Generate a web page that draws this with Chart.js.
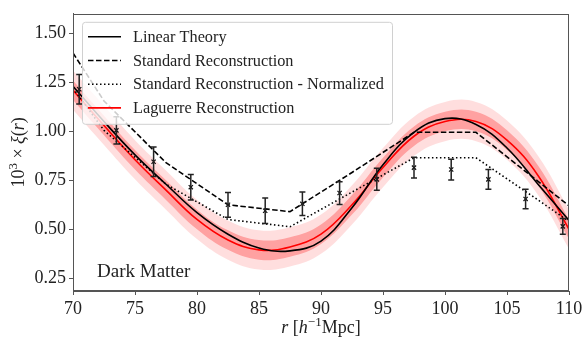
<!DOCTYPE html>
<html>
<head>
<meta charset="utf-8">
<script src="https://cdn.jsdelivr.net/npm/chart.js@4.4.1/dist/chart.umd.min.js"></script>
<style>
  html, body { margin: 0; padding: 0; background: #fff; }
  #wrap { width: 587px; height: 339px; }
</style>
</head>
<body>
<div id="wrap"><canvas id="xiChart" width="587" height="339"></canvas></div>
<script>
const rGrid = [70, 72.5, 75, 77.5, 80, 82.5, 85, 87.5, 90, 92.5, 95, 97.5, 100, 102.5, 105, 107.5, 110];
const linearTheory = [1.23, 1.05, 0.88, 0.73, 0.585, 0.475, 0.405, 0.39, 0.44, 0.61, 0.83, 0.995, 1.065, 1.035, 0.915, 0.73, 0.545];
const laguerre = [1.21, 1.03, 0.855, 0.70, 0.55, 0.445, 0.395, 0.41, 0.475, 0.625, 0.815, 0.975, 1.05, 1.05, 0.955, 0.775, 0.50];
const lag1Up = [1.26, 1.08, 0.905, 0.75, 0.60, 0.495, 0.445, 0.46, 0.525, 0.675, 0.865, 1.025, 1.10, 1.10, 1.005, 0.825, 0.55];
const lag1Low = [1.16, 0.98, 0.805, 0.65, 0.50, 0.395, 0.345, 0.36, 0.425, 0.575, 0.765, 0.925, 1.00, 1.00, 0.905, 0.725, 0.45];
const lag2Up = [1.31, 1.13, 0.955, 0.80, 0.65, 0.545, 0.495, 0.51, 0.575, 0.725, 0.915, 1.075, 1.15, 1.15, 1.055, 0.875, 0.60];
const lag2Low = [1.11, 0.93, 0.755, 0.60, 0.45, 0.345, 0.295, 0.31, 0.375, 0.525, 0.715, 0.875, 0.95, 0.95, 0.855, 0.675, 0.40];

// standard reconstruction, piecewise linear
const rStd = [70, 72.5, 77.5, 82.5, 87.5, 92.5, 97.5, 102.5, 107.5, 110];
const stdRecon = [1.40, 1.155, 0.84, 0.625, 0.59, 0.79, 0.995, 0.995, 0.745, 0.62];
const stdNorm = [1.22, 1.005, 0.73, 0.55, 0.513, 0.69, 0.865, 0.865, 0.65, 0.54];

// measured points with error bars
const measR = [70.5, 73.5, 76.5, 79.5, 82.5, 85.5, 88.5, 91.5, 94.5, 97.5, 100.5, 103.5, 106.5, 109.5];
const measXi = [1.215, 1.005, 0.845, 0.715, 0.625, 0.595, 0.63, 0.685, 0.755, 0.815, 0.805, 0.755, 0.655, 0.515];
const measErr = [0.075, 0.07, 0.075, 0.065, 0.063, 0.065, 0.06, 0.058, 0.056, 0.053, 0.053, 0.05, 0.05, 0.04];

const xTicks = [70, 75, 80, 85, 90, 95, 100, 105, 110];
const yTicks = [0.25, 0.50, 0.75, 1.00, 1.25, 1.50];

const serif = "'Liberation Serif', 'Times New Roman', serif";

function pts(xs, ys) {
  return xs.map((x, i) => ({ x: x, y: ys[i] }));
}

const legendItems = [
  { label: 'Linear Theory', color: '#000', dash: [] },
  { label: 'Standard Reconstruction', color: '#000', dash: [5.5, 2.5] },
  { label: 'Standard Reconstruction - Normalized', color: '#000', dash: [1.5, 2.5] },
  { label: 'Laguerre Reconstruction', color: '#ff0000', dash: [] }
];

const errorBars = {
  id: 'errorBars',
  afterDatasetsDraw(chart) {
    const ctx = chart.ctx;
    const xs = chart.scales.x;
    const ys = chart.scales.y;
    ctx.save();
    ctx.strokeStyle = '#222';
    ctx.lineWidth = 1.5;
    for (let i = 0; i < measR.length; i++) {
      const px = xs.getPixelForValue(measR[i]);
      const top = ys.getPixelForValue(measXi[i] + measErr[i]);
      const bot = ys.getPixelForValue(measXi[i] - measErr[i]);
      ctx.beginPath();
      ctx.moveTo(px, top);
      ctx.lineTo(px, bot);
      ctx.moveTo(px - 3, top);
      ctx.lineTo(px + 3, top);
      ctx.moveTo(px - 3, bot);
      ctx.lineTo(px + 3, bot);
      ctx.stroke();
    }
    ctx.restore();
  }
};

// axis titles with italic symbols, frame, annotation and legend
const frameAndLegend = {
  id: 'frameAndLegend',
  afterDraw(chart) {
    const ctx = chart.ctx;
    const a = chart.chartArea;
    ctx.save();
    ctx.strokeStyle = '#555';
    ctx.lineWidth = 1;
    ctx.strokeRect(Math.round(a.left) + 0.5, Math.round(a.top) + 0.5,
      Math.round(a.right - a.left) - 1, Math.round(a.bottom - a.top) - 1);

    ctx.fillStyle = '#222';
    ctx.textBaseline = 'alphabetic';

    // x title: r [h^-1 Mpc]
    const xParts = [
      { t: 'r', f: 'italic 18px ' + serif, dy: 0 },
      { t: ' [', f: '18px ' + serif, dy: 0 },
      { t: 'h', f: 'italic 18px ' + serif, dy: 0 },
      { t: '−1', f: '13px ' + serif, dy: -7 },
      { t: 'Mpc]', f: '18px ' + serif, dy: 0 }
    ];
    let total = 0;
    xParts.forEach(p => { ctx.font = p.f; total += ctx.measureText(p.t).width; });
    let cx = (a.left + a.right) / 2 - total / 2;
    xParts.forEach(p => {
      ctx.font = p.f;
      ctx.fillText(p.t, cx, 333 + p.dy);
      cx += ctx.measureText(p.t).width;
    });

    // y title: 10^3 x xi(r)
    const yParts = [
      { t: '10', f: '18px ' + serif, dy: 0 },
      { t: '3', f: '13px ' + serif, dy: -7 },
      { t: ' × ', f: '18px ' + serif, dy: 0 },
      { t: 'ξ', f: 'italic 18px ' + serif, dy: 0 },
      { t: '(', f: '18px ' + serif, dy: 0 },
      { t: 'r', f: 'italic 18px ' + serif, dy: 0 },
      { t: ')', f: '18px ' + serif, dy: 0 }
    ];
    total = 0;
    yParts.forEach(p => { ctx.font = p.f; total += ctx.measureText(p.t).width; });
    ctx.save();
    ctx.translate(24, (a.top + a.bottom) / 2);
    ctx.rotate(-Math.PI / 2);
    cx = -total / 2;
    yParts.forEach(p => {
      ctx.font = p.f;
      ctx.fillText(p.t, cx, p.dy);
      cx += ctx.measureText(p.t).width;
    });
    ctx.restore();

    ctx.font = '19px ' + serif;
    ctx.fillText('Dark Matter', a.left + 24, a.bottom - 14);

    // legend box
    const bx = a.left + 9, by = a.top + 8, bw = 310, bh = 102;
    ctx.fillStyle = 'rgba(255,255,255,0.8)';
    ctx.strokeStyle = '#d0d0d0';
    ctx.beginPath();
    ctx.roundRect(bx + 0.5, by + 0.5, bw, bh, 3);
    ctx.fill();
    ctx.stroke();

    ctx.font = '16.3px ' + serif;
    ctx.textBaseline = 'middle';
    legendItems.forEach((it, i) => {
      const y = by + 15 + i * 23.7;
      ctx.strokeStyle = it.color;
      ctx.lineWidth = 1.6;
      ctx.setLineDash(it.dash);
      ctx.beginPath();
      ctx.moveTo(bx + 6, y);
      ctx.lineTo(bx + 39, y);
      ctx.stroke();
      ctx.setLineDash([]);
      ctx.fillStyle = '#222';
      ctx.fillText(it.label, bx + 51, y + 1);
    });
    ctx.restore();
  }
};

const smooth = { tension: 0.4, pointRadius: 0, pointHoverRadius: 0 };

new Chart(document.getElementById('xiChart'), {
  type: 'line',
  data: {
    datasets: [
      Object.assign({ data: pts(rGrid, lag2Low), borderWidth: 0, borderColor: 'transparent', fill: false, order: 10 }, smooth),
      Object.assign({ data: pts(rGrid, lag2Up), borderWidth: 0, borderColor: 'transparent', backgroundColor: 'rgba(255,0,0,0.13)', fill: '-1', order: 10 }, smooth),
      Object.assign({ data: pts(rGrid, lag1Low), borderWidth: 0, borderColor: 'transparent', fill: false, order: 9 }, smooth),
      Object.assign({ data: pts(rGrid, lag1Up), borderWidth: 0, borderColor: 'transparent', backgroundColor: 'rgba(255,0,0,0.28)', fill: '-1', order: 9 }, smooth),
      Object.assign({ label: 'Laguerre Reconstruction', data: pts(rGrid, laguerre), borderColor: '#ff0000', borderWidth: 1.6, fill: false, order: 5 }, smooth),
      Object.assign({ label: 'Linear Theory', data: pts(rGrid, linearTheory), borderColor: '#000', borderWidth: 1.6, fill: false, order: 4 }, smooth),
      { label: 'Standard Reconstruction', data: pts(rStd, stdRecon), borderColor: '#000', borderWidth: 1.6,
        borderDash: [5.5, 2.5], pointRadius: 0, tension: 0, fill: false, order: 3 },
      { label: 'Standard Reconstruction - Normalized', data: pts(rStd, stdNorm), borderColor: '#000', borderWidth: 1.6,
        borderDash: [1.5, 2.5], pointRadius: 0, tension: 0, fill: false, order: 2 },
      { label: 'data', data: pts(measR, measXi), showLine: false, pointStyle: 'crossRot', pointRadius: 3,
        pointBorderWidth: 1.2, pointBorderColor: '#111', borderColor: '#111', order: 1 }
    ]
  },
  options: {
    responsive: false,
    animation: false,
    devicePixelRatio: 1,
    layout: { padding: { top: 7, right: 18, left: 0, bottom: 0 } },
    plugins: { legend: { display: false }, tooltip: { enabled: false } },
    scales: {
      x: {
        type: 'linear', min: 70, max: 110,
        afterFit: s => { s.height = 48; },
        afterBuildTicks: s => { s.ticks = xTicks.map(v => ({ value: v })); },
        grid: { drawOnChartArea: false, drawTicks: true, tickLength: 4, color: '#555' },
        border: { color: '#555' },
        ticks: { color: '#222', font: { family: serif, size: 18 }, padding: 3, maxRotation: 0 }
      },
      y: {
        type: 'linear', min: 0.185, max: 1.6,
        afterFit: s => { s.width = 73; },
        afterBuildTicks: s => { s.ticks = yTicks.map(v => ({ value: v })); },
        grid: { drawOnChartArea: false, drawTicks: true, tickLength: 4, color: '#555' },
        border: { color: '#555' },
        ticks: { color: '#222', font: { family: serif, size: 18 }, padding: 3, callback: v => v.toFixed(2) }
      }
    }
  },
  plugins: [errorBars, frameAndLegend]
});
</script>
</body>
</html>
